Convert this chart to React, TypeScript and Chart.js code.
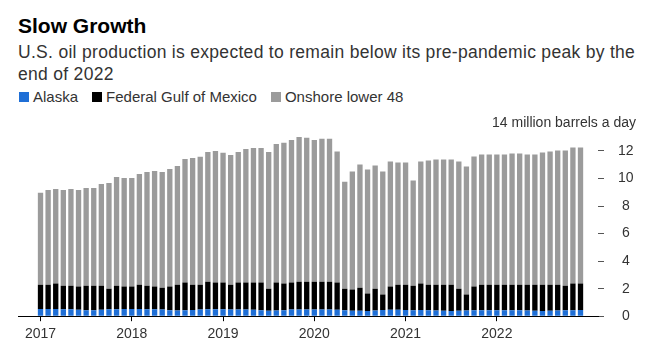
import { useEffect, useRef } from "react";
import { Chart, registerables } from "chart.js";

Chart.register(...registerables);

const yearLabels = ["2017", "2018", "2019", "2020", "2021", "2022"];
const monthNames = ["01", "02", "03", "04", "05", "06", "07", "08", "09", "10", "11", "12"];
const months: string[] = yearLabels.flatMap((y) => monthNames.map((m) => `${y}-${m}`));

// million barrels a day, Jan 2017 .. Dec 2022
const alaska = [
  0.53, 0.53, 0.52, 0.51, 0.5, 0.47, 0.44, 0.44, 0.47, 0.5, 0.51, 0.52,
  0.52, 0.52, 0.51, 0.5, 0.48, 0.44, 0.41, 0.43, 0.45, 0.49, 0.5, 0.5,
  0.5, 0.49, 0.49, 0.48, 0.47, 0.43, 0.4, 0.42, 0.44, 0.48, 0.49, 0.49,
  0.48, 0.48, 0.48, 0.47, 0.44, 0.4, 0.4, 0.38, 0.42, 0.45, 0.46, 0.47,
  0.45, 0.44, 0.45, 0.44, 0.42, 0.4, 0.38, 0.4, 0.42, 0.44, 0.44, 0.44,
  0.44, 0.44, 0.44, 0.43, 0.42, 0.4, 0.38, 0.39, 0.41, 0.43, 0.44, 0.45,
];
const gulfOfMexico = [
  1.76, 1.76, 1.85, 1.71, 1.72, 1.68, 1.78, 1.78, 1.75, 1.5, 1.71, 1.63,
  1.63, 1.77, 1.71, 1.65, 1.59, 1.71, 1.88, 2.01, 1.84, 1.8, 2.01, 1.94,
  1.94, 1.8, 1.95, 1.96, 1.97, 2.01, 1.6, 2.02, 1.93, 1.96, 2.02, 2.02,
  2.03, 2.03, 2.03, 1.97, 1.56, 1.53, 1.67, 1.26, 1.58, 1.12, 1.69, 1.82,
  1.84, 1.78, 1.92, 1.85, 1.87, 1.89, 1.91, 1.6, 1.15, 1.71, 1.85, 1.85,
  1.85, 1.85, 1.85, 1.86, 1.87, 1.89, 1.91, 1.9, 1.88, 1.79, 1.93, 1.92,
];
const onshoreLower48 = [
  6.68, 6.87, 6.87, 6.94, 7.02, 7.01, 7.09, 7.09, 7.38, 7.67, 7.89, 7.89,
  7.89, 8.04, 8.25, 8.4, 8.4, 8.54, 8.62, 8.98, 9.2, 9.28, 9.42, 9.56,
  9.42, 9.42, 9.49, 9.71, 9.78, 9.78, 9.93, 10.07, 10.22, 10.36, 10.51, 10.44,
  10.29, 10.37, 10.37, 9.52, 7.77, 8.57, 8.94, 9.01, 8.94, 8.93, 9.08, 8.87,
  8.87, 7.63, 8.86, 9.01, 9.09, 9.09, 9.09, 9.23, 9.3, 9.45, 9.45, 9.45,
  9.45, 9.45, 9.52, 9.52, 9.45, 9.45, 9.6, 9.67, 9.74, 9.81, 9.88, 9.88,
];
const yTickValues = [0, 2, 4, 6, 8, 10, 12, 14];
const unitLabel = "14 million barrels a day";

const BLUE = "#1f6fd6";
const BLACK = "#000000";
const GRAY = "#9b9b9b";
const FONT = "'Liberation Sans', Arial, sans-serif";

const toPoints = (arr: number[]) => arr.map((v, i) => ({ x: i, y: v }));

const unitLabelPlugin = {
  id: "unitLabel",
  afterDraw(chart: any) {
    const y = chart.scales.y;
    const ctx = chart.ctx;
    ctx.save();
    ctx.font = `14px ${FONT}`;
    ctx.fillStyle = "#333";
    ctx.textAlign = "right";
    ctx.textBaseline = "middle";
    ctx.fillText(unitLabel, chart.width - 18, y.getPixelForValue(14));
    ctx.restore();
  },
};

export default function App() {
  const ref = useRef<HTMLCanvasElement | null>(null);

  useEffect(() => {
    if (!ref.current) return;
    const yearTickIdx = yearLabels.map((y) => months.indexOf(`${y}-01`));
    const chart = new Chart(ref.current, {
      type: "bar",
      data: {
        datasets: [
          { label: "Alaska", data: toPoints(alaska), backgroundColor: BLUE },
          { label: "Federal Gulf of Mexico", data: toPoints(gulfOfMexico), backgroundColor: BLACK },
          { label: "Onshore lower 48", data: toPoints(onshoreLower48), backgroundColor: GRAY },
        ],
      },
      options: {
        animation: false,
        responsive: false,
        maintainAspectRatio: false,
        layout: { padding: { left: 10, right: 10, top: 3, bottom: 11 } },
        datasets: { bar: { barPercentage: 0.7, categoryPercentage: 1, borderWidth: 0 } },
        plugins: { legend: { display: false }, tooltip: { enabled: false } },
        scales: {
          x: {
            type: "linear",
            stacked: true,
            offset: false,
            min: -2.96,
            max: 73.3,
            afterBuildTicks: (scale: any) => {
              scale.ticks = yearTickIdx.map((v) => ({ value: v }));
            },
            ticks: {
              autoSkip: false,
              maxRotation: 0,
              padding: 5,
              color: "#333",
              font: { family: FONT, size: 14 },
              callback: (value: any) => {
                const k = yearTickIdx.indexOf(Number(value));
                return k >= 0 ? yearLabels[k] : "";
              },
            },
            grid: { offset: false, drawOnChartArea: false, drawTicks: true, tickLength: 5, color: "#000", tickColor: "#000" },
            border: { display: true, color: "#000", width: 1 },
          },
          y: {
            position: "right",
            stacked: true,
            min: 0,
            max: 14,
            afterBuildTicks: (scale: any) => {
              scale.ticks = yTickValues.map((v) => ({ value: v }));
            },
            afterFit: (scale: any) => {
              scale.width = 46;
            },
            ticks: {
              padding: 14,
              crossAlign: "center",
              color: "#333",
              font: { family: FONT, size: 14 },
              callback: (value: any) => (Number(value) === 14 ? "" : String(value)),
            },
            grid: {
              drawOnChartArea: false,
              drawTicks: true,
              tickLength: 6,
              tickColor: (ctx: any) => (ctx.tick && ctx.tick.value === 14 ? "rgba(0,0,0,0)" : "#555"),
            },
            border: { display: false },
          },
        },
      },
      plugins: [unitLabelPlugin],
    } as any);
    return () => chart.destroy();
  }, []);

  const legend = [
    { label: "Alaska", color: BLUE },
    { label: "Federal Gulf of Mexico", color: BLACK },
    { label: "Onshore lower 48", color: GRAY },
  ];

  return (
    <div style={{ position: "relative", width: 646, height: 351, fontFamily: FONT, color: "#222" }}>
      <div style={{ position: "absolute", left: 10, top: 6, fontSize: 21, lineHeight: "24px", fontWeight: 700, color: "#000", whiteSpace: "nowrap" }}>
        Slow Growth
      </div>
      <div style={{ position: "absolute", left: 10, top: 33, width: 630, fontSize: 17.5, letterSpacing: "0.3px", lineHeight: "22px", color: "#333" }}>
        U.S. oil production is expected to remain below its pre-pandemic peak by the end of 2022
      </div>
      <div style={{ position: "absolute", left: 11, top: 81, display: "flex", alignItems: "center", fontSize: 15, lineHeight: "16px", color: "#333", whiteSpace: "nowrap" }}>
        {legend.map((l) => (
          <span key={l.label} style={{ display: "inline-flex", alignItems: "center", marginRight: 14 }}>
            <span style={{ display: "inline-block", width: 10, height: 10, background: l.color, marginRight: 4 }} />
            {l.label}
          </span>
        ))}
      </div>
      <canvas ref={ref} width={646} height={258} style={{ position: "absolute", left: 0, top: 93, width: 646, height: 258 }} />
    </div>
  );
}
